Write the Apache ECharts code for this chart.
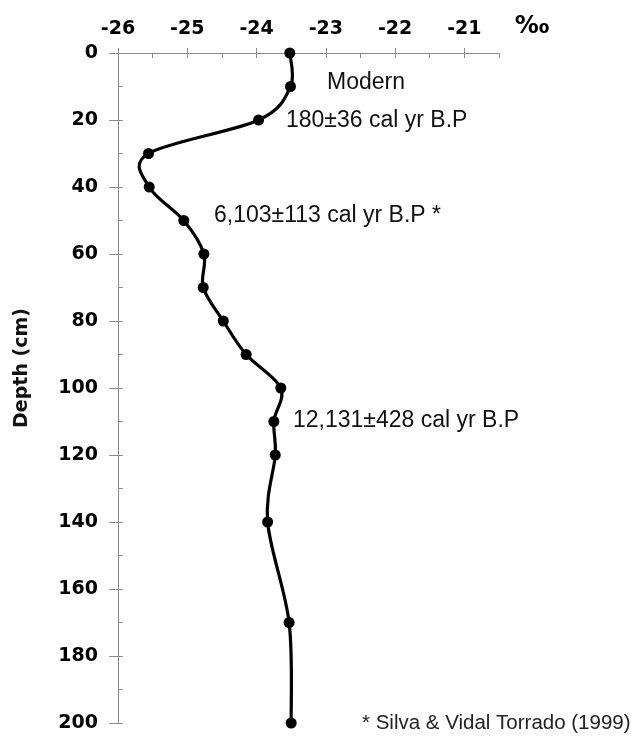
<!DOCTYPE html>
<html>
<head>
<meta charset="utf-8">
<script src="https://cdn.jsdelivr.net/npm/echarts@6/dist/echarts.min.js"></script>
<style>
html,body{margin:0;padding:0;background:#fff;}
#chart{width:632px;height:740px;}
</style>
</head>
<body>
<div id="chart"></div>
<script>
// Data
const depths = [0, 10, 20, 30, 40, 50, 60, 70, 80, 90, 100, 110, 120, 140, 170, 200];
const delta13C = [-23.52, -23.51, -23.97, -25.56, -25.55, -25.05, -24.76, -24.77, -24.48, -24.15, -23.65, -23.75, -23.73, -23.84, -23.53, -23.50];
const xTickValues = [-26, -25, -24, -23, -22, -21];
const yTickValues = [0, 20, 40, 60, 80, 100, 120, 140, 160, 180, 200];
const unitLabel = '‰';
const yAxisTitle = 'Depth (cm)';
const annotations = [
  {text: 'Modern', x: 327, y: 83},
  {text: '180±36 cal yr B.P', x: 286, y: 121},
  {text: '6,103±113 cal yr B.P *', x: 214, y: 216},
  {text: '12,131±428 cal yr B.P', x: 293, y: 421}
];
const footnote = '* Silva & Vidal Torrado (1999)';

const chart = echarts.init(document.getElementById('chart'));
const axisGray = '#8a8a8a';
const tickFont = {fontFamily: 'DejaVu Sans', fontWeight: 'bold', fontSize: 19, color: '#000'};
const points = depths.map((d, i) => [delta13C[i], d]);

// Spreadsheet-style smoothed line: cubic Bezier segments through the data points (pixel space via api.coord)
function renderSmoothLine(params, api) {
  if (params.dataIndex !== 0) return null;
  const p = points.map(pt => api.coord(pt));
  const n = p.length;
  const children = [];
  for (let i = 0; i < n - 1; i++) {
    const p0 = p[Math.max(i - 1, 0)], p1 = p[i], p2 = p[i + 1], p3 = p[Math.min(i + 2, n - 1)];
    children.push({
      type: 'bezierCurve',
      shape: {
        x1: p1[0], y1: p1[1], x2: p2[0], y2: p2[1],
        cpx1: p1[0] + (p2[0] - p0[0]) / 6, cpy1: p1[1] + (p2[1] - p0[1]) / 6,
        cpx2: p2[0] - (p3[0] - p1[0]) / 6, cpy2: p2[1] - (p3[1] - p1[1]) / 6
      },
      style: {stroke: '#000', lineWidth: 3.2, fill: null, lineCap: 'round'},
      silent: true
    });
  }
  return {type: 'group', children: children};
}

const option = {
  backgroundColor: '#fff',
  animation: false,
  grid: {left: 118, right: 133, top: 53, bottom: 17, containLabel: false},
  xAxis: [
    {
      type: 'value', position: 'top', min: -26, max: -20.5, interval: 1,
      axisLine: {show: true, onZero: false, lineStyle: {color: axisGray, width: 1}},
      axisTick: {show: true, inside: false, length: 5, customValues: xTickValues, lineStyle: {color: axisGray}},
      axisLabel: Object.assign({margin: 14, customValues: xTickValues, formatter: v => String(v)}, tickFont),
      splitLine: {show: false}
    },
    {
      type: 'value', position: 'top', min: -26, max: -20.5, interval: 0.5,
      axisLine: {show: false, onZero: false},
      axisTick: {show: true, inside: true, length: 5, lineStyle: {color: axisGray}},
      axisLabel: {show: false},
      splitLine: {show: false}
    }
  ],
  yAxis: [
    {
      type: 'value', inverse: true, min: 0, max: 200, interval: 20,
      axisLine: {show: true, onZero: false, lineStyle: {color: axisGray, width: 1}},
      axisTick: {show: true, inside: false, length: 9, lineStyle: {color: axisGray}},
      axisLabel: Object.assign({margin: 20, customValues: yTickValues}, tickFont),
      splitLine: {show: false}
    },
    {
      type: 'value', inverse: true, min: 0, max: 200, interval: 10, position: 'left',
      axisLine: {show: false, onZero: false},
      axisTick: {show: true, inside: true, length: 5, lineStyle: {color: axisGray}},
      axisLabel: {show: false},
      splitLine: {show: false}
    }
  ],
  series: [
    {
      type: 'custom',
      xAxisIndex: 0, yAxisIndex: 0,
      data: points,
      renderItem: renderSmoothLine,
      silent: true
    },
    {
      type: 'scatter',
      xAxisIndex: 0, yAxisIndex: 0,
      data: points,
      symbol: 'circle', symbolSize: 11,
      itemStyle: {color: '#000', opacity: 1}
    }
  ],
  graphic: [
    {type: 'text', x: 532, y: 27, style: {text: unitLabel, font: 'bold 24px "DejaVu Sans"', fill: '#000', align: 'center', verticalAlign: 'middle'}},
    {type: 'text', x: 22, y: 368, rotation: Math.PI / 2, style: {text: yAxisTitle, font: 'bold 19px "DejaVu Sans"', fill: '#111', align: 'center', verticalAlign: 'middle'}}
  ].concat(annotations.map(a => ({
    type: 'text', x: a.x, y: a.y,
    style: {text: a.text, font: '23px "Liberation Sans"', fill: '#111', align: 'left', verticalAlign: 'middle'}
  }))).concat([
    {type: 'text', x: 362, y: 723, style: {text: footnote, font: '20.5px "Liberation Sans"', fill: '#222', align: 'left', verticalAlign: 'middle'}}
  ])
};
chart.setOption(option);
</script>
</body>
</html>
